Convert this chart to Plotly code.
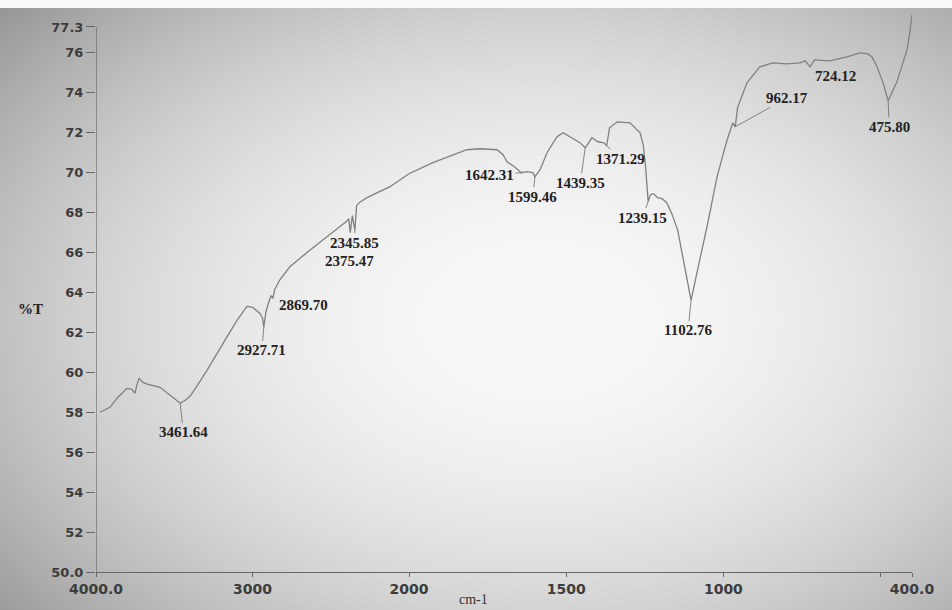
import base64
import struct
import zlib

import numpy as np
import plotly.graph_objects as go

# ---------------------------------------------------------------- data
# FTIR spectrum: wavenumber (cm-1) and transmittance (%T)
wavenumber = [
    3975, 3911, 3860, 3802, 3770, 3751, 3738, 3725, 3700, 3668, 3591, 3527,
    3490, 3461.64, 3430, 3399, 3340, 3291, 3188, 3099, 3035, 2997, 2952, 2935,
    2927.71, 2915, 2895, 2880, 2869.70, 2858, 2824, 2760, 2652, 2550, 2441,
    2400, 2385, 2375.47, 2362, 2345.85, 2335, 2310, 2268, 2121, 2000,
    1924, 1816, 1774, 1720, 1701, 1688, 1665, 1642.31, 1625, 1606, 1599.46,
    1583, 1561, 1529, 1510, 1488, 1456, 1439.35, 1424, 1418, 1399, 1380,
    1371.29, 1362, 1338, 1297, 1265, 1255, 1248, 1243, 1239.15, 1232, 1222,
    1210, 1195, 1180, 1164, 1145, 1129, 1113, 1102.76, 1084, 1052, 1020, 989,
    970, 962.17, 955, 925, 884, 843, 798, 756, 740, 724.12, 710, 661, 607,
    566, 540, 527, 511, 492, 475.80, 460, 448, 430, 416, 408, 400,
]
transmittance = [
    58.0, 58.25, 58.75, 59.2, 59.15, 58.95, 59.4, 59.7, 59.5, 59.4, 59.25, 58.85,
    58.6, 58.45, 58.6, 58.8, 59.5, 60.1, 61.45, 62.6, 63.3, 63.25, 62.95, 62.7,
    62.25, 63.0, 63.55, 63.85, 63.7, 64.15, 64.65, 65.3, 66.0, 66.65, 67.3,
    67.55, 67.7, 67.0, 67.85, 67.1, 68.35, 68.55, 68.75, 69.3, 69.95,
    70.5, 71.15, 71.2, 71.15, 70.9, 70.55, 70.3, 70.0, 70.05, 70.0, 69.8,
    70.15, 71.0, 71.8, 72.0, 71.8, 71.5, 71.25, 71.65, 71.75, 71.55, 71.5,
    71.35, 72.25, 72.55, 72.5, 72.0, 71.4, 70.4, 69.3, 68.55, 68.9, 68.95,
    68.75, 68.7, 68.5, 67.95, 67.1, 65.8, 64.35, 63.6, 65.0, 67.3, 69.8, 71.6,
    72.5, 72.3, 73.25, 74.5, 75.3, 75.5, 75.45, 75.5, 75.6, 75.3, 75.65, 75.6, 75.8,
    76.0, 75.95, 75.8, 75.3, 74.5, 73.6, 74.1, 74.55, 75.45, 76.15, 76.9, 77.9,
]

# labelled bands and where each label sits relative to its band (px)
peak_labels = ["3461.64", "2927.71", "2869.70", "2345.85", "2375.47",
               "1642.31", "1599.46", "1439.35", "1371.29", "1239.15",
               "1102.76", "962.17", "724.12", "475.80"]
peak_offset_x = [3, -2, 31, 0, -1, -32, -2, -5, 14, -6, -3, 52, 25, 1]
peak_offset_y = [29, 23, 7, 12, 28, 2, 20, 35, 13, 16, 30, -29, 9, 26]
peak_leader = [True, True, False, True, False, True, True, True, True,
               True, True, True, False, True]

# axis ticks
y_tickvals = [50, 52, 54, 56, 58, 60, 62, 64, 66, 68, 70, 72, 74, 76, 77.3]
y_ticktext = ["50.0", "52", "54", "56", "58", "60", "62", "64", "66", "68",
              "70", "72", "74", "76", "77.3"]
x_hi_tickvals = [4000, 3000]
x_hi_ticktext = ["4000.0", "3000"]
x_lo_tickvals = [2000, 1500, 1000, 500, 400]
x_lo_ticktext = ["2000", "1500", "1000", "", "400.0"]

# ---------------------------------------------------------------- layout
W, H = 952, 610
ML, MR, MT, MB = 96, 40, 7, 38
PW, PH = W - ML - MR, H - MT - MB
SPLIT = 2000
Y_RANGE = [50, 78.3]
Y_AXIS_TOP = 77.3
# the 4000-2000 part is drawn at half the scale of 2000-400
split_frac = 313 / PW

CURVE = "#808080"
AXIS = "#666666"
Y_TICK_FONT = dict(family="DejaVu Sans", size=13, color="#3c3c3c", weight="bold")
X_TICK_FONT = dict(family="DejaVu Sans", size=14, color="#3c3c3c", weight="bold")
LABEL_FONT = dict(family="Liberation Serif", size=15, color="#222222", weight="bold")


def png_data_uri(gray):
    """Encode a 2-D uint8 array as an 8-bit greyscale PNG data URI."""
    h, w = gray.shape
    raw = b"".join(b"\x00" + gray[r].tobytes() for r in range(h))

    def chunk(tag, payload):
        body = tag + payload
        return (struct.pack(">I", len(payload)) + body
                + struct.pack(">I", zlib.crc32(body) & 0xFFFFFFFF))

    png = (b"\x89PNG\r\n\x1a\n"
           + chunk(b"IHDR", struct.pack(">IIBBBBB", w, h, 8, 0, 0, 0, 0))
           + chunk(b"IDAT", zlib.compress(raw, 9))
           + chunk(b"IEND", b""))
    return "data:image/png;base64," + base64.b64encode(png).decode()


# soft grey paper, darker towards the corners
yy, xx = np.mgrid[0:H, 0:W].astype(float)
d2 = ((xx - 540) / 500) ** 2 + ((yy - 320) / 330) ** 2
paper = np.clip(249 - 48 * d2, 120, 250)
paper[:8, :] = 250
paper = paper.astype(np.uint8)

wn = np.array(wavenumber)
tr = np.array(transmittance)
hi = wn >= SPLIT
lo = wn <= SPLIT

fig = go.Figure()
fig.add_trace(go.Scatter(x=wn[hi], y=tr[hi], mode="lines", xaxis="x", yaxis="y",
                         line=dict(color=CURVE, width=1.3), hoverinfo="skip"))
fig.add_trace(go.Scatter(x=wn[lo], y=tr[lo], mode="lines", xaxis="x2", yaxis="y",
                         line=dict(color=CURVE, width=1.3), hoverinfo="skip"))

# band labels, anchored on the curve at the labelled wavenumber
annotations = []
for text, dx, dy, leader in zip(peak_labels, peak_offset_x, peak_offset_y, peak_leader):
    band = float(text)
    idx = int(np.argmin(np.abs(wn - band)))
    annotations.append(dict(
        x=band, y=tr[idx], xref="x" if band >= SPLIT else "x2", yref="y",
        text=text, showarrow=True, arrowhead=0, arrowwidth=0.8,
        arrowcolor="#6a6a6a" if leader else "rgba(0,0,0,0)",
        standoff=0, ax=dx, ay=dy, font=LABEL_FONT,
    ))

annotations.append(dict(x=(30 - ML) / PW, y=(572 - 309) / PH, xref="paper", yref="paper",
                        text="%T", showarrow=False, xanchor="center", yanchor="middle",
                        font=LABEL_FONT))
annotations.append(dict(x=(473 - ML) / PW, y=(572 - 609) / PH, xref="paper", yref="paper",
                        text="cm-1", showarrow=False, xanchor="center", yanchor="bottom",
                        font=dict(family="Liberation Serif", size=14, color="#333333")))

axis_common = dict(showgrid=False, zeroline=False, showline=True, linecolor=AXIS,
                   linewidth=1.2, ticks="outside", ticklen=4, tickcolor=AXIS,
                   tickfont=X_TICK_FONT, tickmode="array")

fig.update_layout(
    width=W, height=H,
    margin=dict(l=ML, r=MR, t=MT, b=MB, pad=0),
    paper_bgcolor="rgba(0,0,0,0)", plot_bgcolor="rgba(0,0,0,0)",
    showlegend=False,
    xaxis=dict(domain=[0, split_frac], range=[4000, SPLIT], anchor="y",
               tickvals=x_hi_tickvals, ticktext=x_hi_ticktext, **axis_common),
    xaxis2=dict(domain=[split_frac, 1], range=[SPLIT, 400], anchor="y",
                tickvals=x_lo_tickvals, ticktext=x_lo_ticktext, **axis_common),
    yaxis=dict(range=Y_RANGE, showgrid=False, zeroline=False, showline=False,
               ticks="outside", ticklen=9, tickcolor=AXIS, tickfont=Y_TICK_FONT,
               tickmode="array", tickvals=y_tickvals, ticktext=y_ticktext),
    annotations=annotations,
    shapes=[dict(type="line", xref="x", yref="y", x0=4000, x1=4000,
                 y0=Y_RANGE[0], y1=Y_AXIS_TOP, line=dict(color=AXIS, width=1.2))],
    images=[dict(source=png_data_uri(paper), xref="paper", yref="paper",
                 x=-ML / PW, y=1 + MT / PH, sizex=W / PW, sizey=H / PH,
                 xanchor="left", yanchor="top", sizing="stretch", layer="below")],
)

fig.write_html("out.html")
